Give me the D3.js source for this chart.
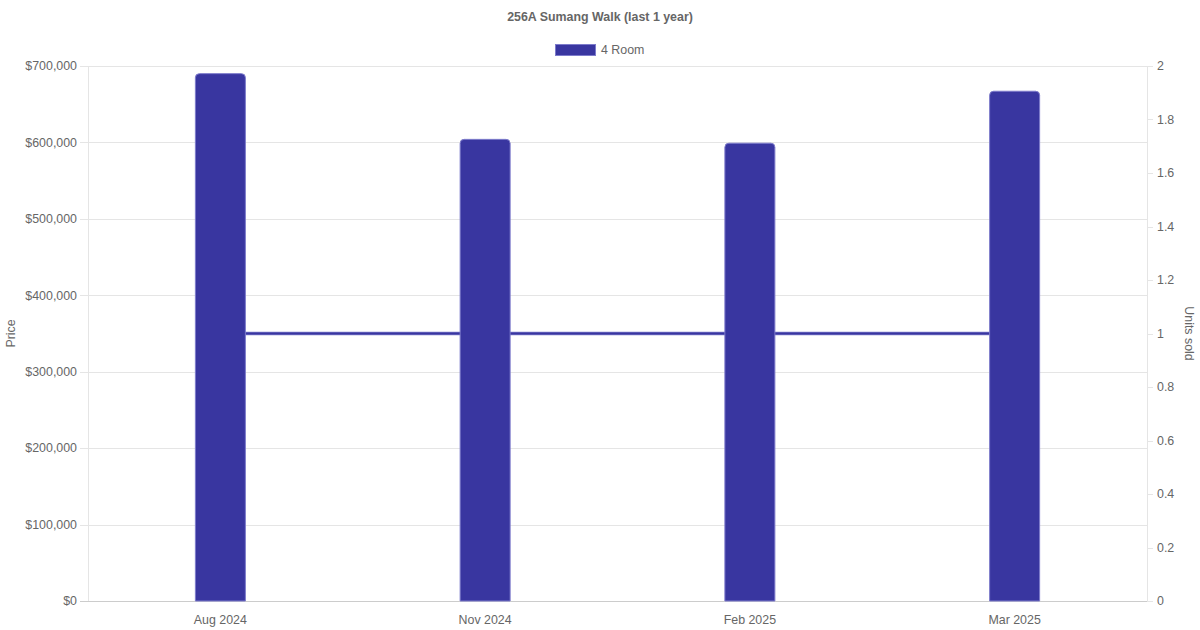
<!DOCTYPE html>
<html>
<head>
<meta charset="utf-8">
<script src="https://cdn.jsdelivr.net/npm/d3@7"></script>
<style>
  html, body { margin: 0; padding: 0; background: #fff; }
  svg { display: block; font-family: "Liberation Sans", Arial, sans-serif; }
</style>
</head>
<body>
<svg id="chart" width="1200" height="630"></svg>
<script>
const categories = ["Aug 2024", "Nov 2024", "Feb 2025", "Mar 2025"];
const prices = [690000, 604000, 599000, 667000];
const unitsSold = [1, 1, 1, 1];
const priceTicks = [0, 100000, 200000, 300000, 400000, 500000, 600000, 700000];
const unitTicks = [0, 0.2, 0.4, 0.6, 0.8, 1, 1.2, 1.4, 1.6, 1.8, 2];
const seriesName = "4 Room";
const titleText = "256A Sumang Walk (last 1 year)";

const W = 1200, H = 630;
const m = { left: 88, right: 1147, top: 66, bottom: 601 };
const fill = "#3936a0", border = "#7d7bcb", textCol = "#666", grid = "#e5e5e5";
const fs = 12.4;

const svg = d3.select("#chart");

const x = d3.scaleBand().domain(categories).range([m.left, m.right]).paddingInner(0).paddingOuter(0);
const yL = d3.scaleLinear().domain([0, 700000]).range([m.bottom, m.top]);
const yR = d3.scaleLinear().domain([0, 2]).range([m.bottom, m.top]);

// gridlines
svg.append("g").selectAll("line").data(priceTicks).join("line")
  .attr("x1", m.left - 8).attr("x2", m.right)
  .attr("y1", d => Math.round(yL(d)) + 0.5).attr("y2", d => Math.round(yL(d)) + 0.5)
  .attr("stroke", d => d === 0 ? "#ccc" : grid).attr("stroke-width", 1);

// right tick marks
svg.append("g").selectAll("line").data(unitTicks).join("line")
  .attr("x1", m.right).attr("x2", m.right + 6)
  .attr("y1", d => Math.round(yR(d)) + 0.5).attr("y2", d => Math.round(yR(d)) + 0.5)
  .attr("stroke", grid);

// axis lines
svg.append("line").attr("x1", m.left + 0.5).attr("x2", m.left + 0.5)
  .attr("y1", m.top).attr("y2", m.bottom).attr("stroke", grid);
svg.append("line").attr("x1", m.right + 0.5).attr("x2", m.right + 0.5)
  .attr("y1", m.top).attr("y2", m.bottom).attr("stroke", grid);
svg.append("line").attr("x1", m.left).attr("x2", m.right)
  .attr("y1", m.bottom + 0.5).attr("y2", m.bottom + 0.5).attr("stroke", "#ccc");

// left tick labels
const fmt = d => "$" + d3.format(",")(d);
svg.append("g").selectAll("text").data(priceTicks).join("text")
  .attr("x", m.left - 11).attr("y", d => yL(d)).attr("dy", "0.35em")
  .attr("text-anchor", "end").attr("font-size", fs).attr("fill", textCol)
  .text(fmt);

// right tick labels
svg.append("g").selectAll("text").data(unitTicks).join("text")
  .attr("x", m.right + 10).attr("y", d => yR(d)).attr("dy", "0.35em")
  .attr("text-anchor", "start").attr("font-size", fs).attr("fill", textCol)
  .text(d => d3.format("~g")(d));

// x labels
svg.append("g").selectAll("text").data(categories).join("text")
  .attr("x", d => x(d) + x.bandwidth() / 2).attr("y", 619.5).attr("dy", "0.35em")
  .attr("text-anchor", "middle").attr("font-size", fs).attr("fill", textCol)
  .text(d => d);

// axis titles
svg.append("text").attr("transform", `translate(11,${(m.top + m.bottom) / 2}) rotate(-90)`)
  .attr("text-anchor", "middle").attr("dy", "0.35em").attr("font-size", fs).attr("fill", textCol)
  .text("Price");
svg.append("text").attr("transform", `translate(1189,${(m.top + m.bottom) / 2}) rotate(90)`)
  .attr("text-anchor", "middle").attr("dy", "0.35em").attr("font-size", fs).attr("fill", textCol)
  .text("Units sold");

// title
svg.append("text").attr("x", W / 2).attr("y", 17).attr("dy", "0.35em")
  .attr("text-anchor", "middle").attr("font-size", fs).attr("font-weight", "bold").attr("fill", textCol)
  .text(titleText);

// legend
svg.append("rect").attr("x", 555.5).attr("y", 44.5).attr("width", 40).attr("height", 11)
  .attr("fill", fill).attr("stroke", border).attr("stroke-width", 1);
svg.append("text").attr("x", 601).attr("y", 50).attr("dy", "0.35em")
  .attr("font-size", fs).attr("fill", textCol).text(seriesName);

// line (units sold), behind bars
const line = d3.line().x((d, i) => x(categories[i]) + x.bandwidth() / 2).y(d => yR(d));
svg.append("path").datum(unitsSold).attr("d", line)
  .attr("fill", "none").attr("stroke", border).attr("stroke-width", 3.5);
svg.append("path").datum(unitsSold).attr("d", line)
  .attr("fill", "none").attr("stroke", fill).attr("stroke-width", 2);

// bars
const bw = 50, r = 4;
function barPath(cx, top, bottom) {
  const x0 = cx - bw / 2, x1 = cx + bw / 2;
  return `M${x0},${bottom} L${x0},${top + r} Q${x0},${top} ${x0 + r},${top} L${x1 - r},${top} Q${x1},${top} ${x1},${top + r} L${x1},${bottom} Z`;
}
svg.append("g").selectAll("path").data(prices).join("path")
  .attr("d", (d, i) => barPath(x(categories[i]) + x.bandwidth() / 2, yL(d), yL(0)))
  .attr("fill", fill).attr("stroke", border).attr("stroke-width", 1);
</script>
</body>
</html>
